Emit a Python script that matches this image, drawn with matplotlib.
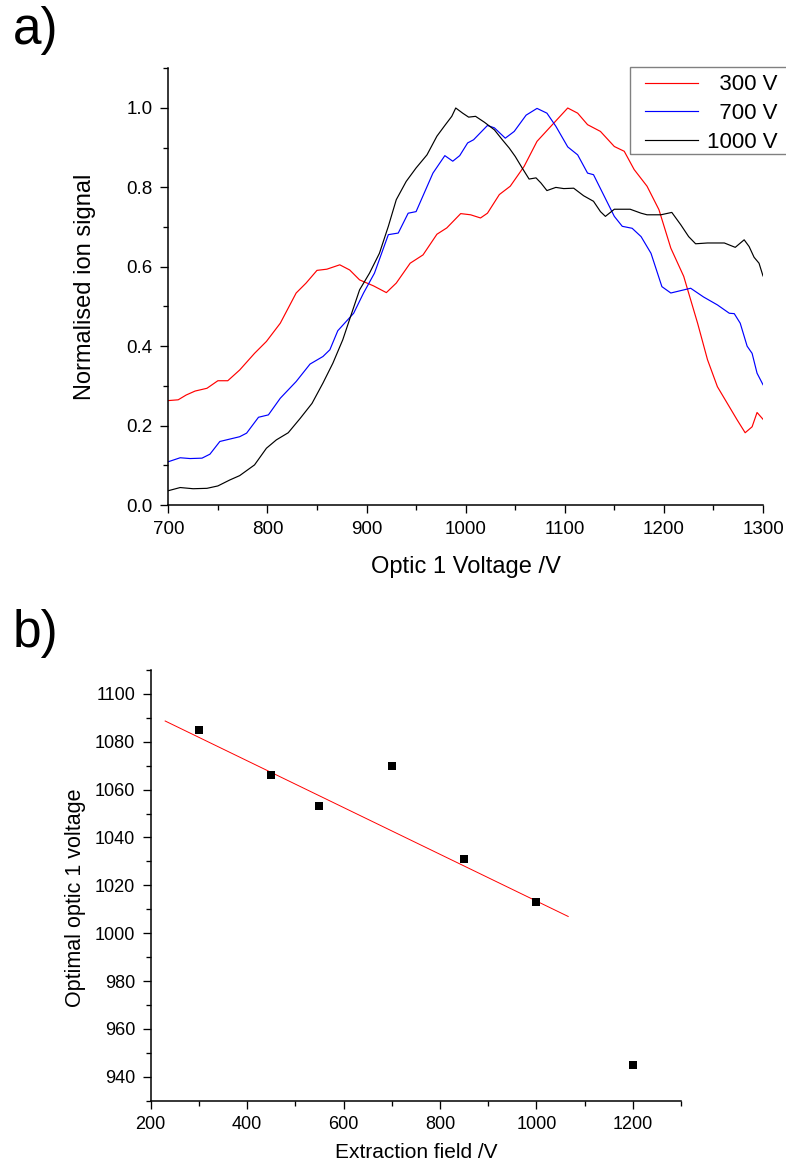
import numpy as np
import matplotlib
matplotlib.use("Agg")
import matplotlib.pyplot as plt
from matplotlib.patches import Rectangle
from matplotlib.ticker import MultipleLocator, FormatStrFormatter

plt.rcParams['font.family'] = ['Liberation Sans', 'DejaVu Sans']

# ---- panel a: normalised ion signal vs optic 1 voltage ----
v300 = [700, 710, 718, 727, 739, 750, 760, 772, 787, 799, 813, 821, 829, 839, 850, 860,
        873, 883, 893, 907, 920, 930, 944, 957, 971, 981, 995, 1005, 1015, 1022, 1034,
        1045, 1059, 1072, 1086, 1103, 1113, 1123, 1136, 1150, 1160, 1170, 1183, 1195,
        1207, 1220, 1234, 1244, 1254, 1264, 1274, 1282, 1289, 1294, 1300]
s300 = [0.263, 0.265, 0.277, 0.287, 0.294, 0.313, 0.313, 0.340, 0.382, 0.412, 0.458,
        0.496, 0.534, 0.559, 0.591, 0.594, 0.605, 0.592, 0.567, 0.552, 0.535, 0.559,
        0.609, 0.630, 0.682, 0.698, 0.734, 0.731, 0.723, 0.735, 0.782, 0.803, 0.853,
        0.916, 0.954, 1.000, 0.987, 0.958, 0.941, 0.903, 0.891, 0.845, 0.803, 0.744,
        0.647, 0.576, 0.458, 0.366, 0.298, 0.256, 0.214, 0.182, 0.197, 0.233, 0.216]

v700 = [700, 712, 722, 734, 742, 752, 762, 772, 779, 791, 801, 813, 829, 843, 856, 863,
        871, 887, 897, 908, 922, 932, 942, 950, 967, 979, 987, 994, 1002, 1008, 1022,
        1029, 1040, 1049, 1061, 1072, 1082, 1091, 1103, 1113, 1123, 1129, 1140, 1150,
        1158, 1168, 1177, 1187, 1198, 1207, 1217, 1227, 1240, 1254, 1266, 1271, 1277,
        1284, 1289, 1294, 1300]
s700 = [0.109, 0.119, 0.117, 0.118, 0.128, 0.160, 0.166, 0.172, 0.181, 0.221, 0.227,
        0.269, 0.311, 0.355, 0.374, 0.391, 0.439, 0.483, 0.534, 0.584, 0.681, 0.685,
        0.735, 0.739, 0.836, 0.880, 0.866, 0.880, 0.912, 0.920, 0.956, 0.950, 0.924,
        0.941, 0.982, 0.999, 0.987, 0.954, 0.902, 0.882, 0.836, 0.832, 0.777, 0.727,
        0.702, 0.697, 0.676, 0.634, 0.550, 0.534, 0.540, 0.546, 0.524, 0.504, 0.483,
        0.482, 0.458, 0.400, 0.382, 0.332, 0.303]

v1000 = [700, 712, 725, 739, 750, 762, 772, 787, 799, 809, 821, 833, 845, 856, 866, 876,
         885, 893, 903, 913, 922, 930, 940, 950, 961, 971, 979, 986, 990, 997, 1003,
         1010, 1019, 1029, 1037, 1044, 1050, 1057, 1064, 1071, 1076, 1082, 1091, 1099,
         1109, 1119, 1129, 1136, 1141, 1150, 1166, 1177, 1183, 1197, 1208, 1217, 1225,
         1232, 1244, 1261, 1272, 1281, 1286, 1291, 1296, 1300]
s1000 = [0.036, 0.044, 0.041, 0.042, 0.048, 0.063, 0.074, 0.101, 0.143, 0.164, 0.182,
         0.218, 0.256, 0.307, 0.357, 0.416, 0.483, 0.542, 0.584, 0.634, 0.702, 0.769,
         0.815, 0.849, 0.882, 0.929, 0.956, 0.979, 1.000, 0.987, 0.977, 0.979, 0.964,
         0.945, 0.920, 0.899, 0.878, 0.849, 0.821, 0.824, 0.811, 0.792, 0.800, 0.797,
         0.798, 0.779, 0.765, 0.739, 0.727, 0.745, 0.745, 0.735, 0.731, 0.731, 0.737,
         0.706, 0.676, 0.658, 0.660, 0.660, 0.649, 0.668, 0.651, 0.624, 0.609, 0.577]

series_labels = ['\u2007300 V', '\u2007700 V', '1000 V']
series_colors = ['#ff0000', '#0000ff', '#000000']

# ---- panel b: optimal optic 1 voltage vs extraction field ----
field = [300, 450, 550, 700, 850, 1000, 1200]
optimal = [1085, 1066, 1053, 1070, 1031, 1013, 945]
fit_points = [300, 450, 550, 850, 1000]   # fields used for the linear fit
fit_span = (230, 1066)

W, H = 786, 1167
fig = plt.figure(figsize=(W / 100, H / 100), dpi=100)


def frac_box(x0, y0, x1, y1):
    return [x0 / W, 1 - y1 / H, (x1 - x0) / W, (y1 - y0) / H]


def style_axes(ax, tick_fs):
    for side in ('top', 'right'):
        ax.spines[side].set_visible(False)
    for side in ('left', 'bottom'):
        ax.spines[side].set_linewidth(1.1)
    ax.tick_params(which='both', direction='out', width=0.95, labelsize=tick_fs,
                   top=False, right=False, pad=5.5)
    ax.tick_params(which='major', length=5.8)
    ax.tick_params(which='minor', length=3.4)


# panel a
ax1 = fig.add_axes(frac_box(168.3, 68.3, 763, 505))
for v, s, lab, col in zip([v300, v700, v1000], [s300, s700, s1000],
                          series_labels, series_colors):
    ax1.plot(v, s, color=col, lw=0.85, label=lab)
ax1.set_xlim(700, 1300)
ax1.set_ylim(0, 1.1)
ax1.xaxis.set_major_locator(MultipleLocator(100))
ax1.xaxis.set_minor_locator(MultipleLocator(50))
ax1.yaxis.set_major_locator(MultipleLocator(0.2))
ax1.yaxis.set_minor_locator(MultipleLocator(0.1))
ax1.yaxis.set_major_formatter(FormatStrFormatter('%.1f'))
style_axes(ax1, 13.5)
ax1.set_xlabel('Optic 1 Voltage /V', fontsize=17)
ax1.set_ylabel('Normalised ion signal', fontsize=17, va='center')
ax1.xaxis.set_label_coords(0.5, -0.1165)
ax1.yaxis.set_label_coords(-0.140, 0.5)

# legend entries without their own frame; the box is drawn as a patch
leg = ax1.legend(loc='upper left', bbox_to_anchor=(645 / W, 1 - 74.5 / H),
                 bbox_transform=fig.transFigure, borderaxespad=0, fontsize=16,
                 frameon=False, handlelength=2.4, handletextpad=0.4,
                 labelspacing=0.34, borderpad=0.0)
fig.patches.append(Rectangle((630 / W, 1 - 154 / H), 170 / W, (154 - 67.3) / H,
                             transform=fig.transFigure, facecolor='none',
                             edgecolor='#808080', linewidth=1.0))

# panel b
ax2 = fig.add_axes(frac_box(150.7, 670, 681, 1100.7))
fx = np.array(field, dtype=float)
fy = np.array(optimal, dtype=float)
sel = np.isin(fx, fit_points)
slope, intercept = np.polyfit(fx[sel], fy[sel], 1)
xs = np.array(fit_span, dtype=float)
ax2.plot(xs, slope * xs + intercept, color='#ff0000', lw=0.7)
ax2.plot(field, optimal, linestyle='none', marker='s', markersize=5.4,
         color='black', markeredgewidth=0)
ax2.set_xlim(200, 1300)
ax2.set_ylim(930, 1110)
ax2.xaxis.set_major_locator(MultipleLocator(200))
ax2.xaxis.set_minor_locator(MultipleLocator(100))
ax2.yaxis.set_major_locator(MultipleLocator(20))
ax2.yaxis.set_minor_locator(MultipleLocator(10))
style_axes(ax2, 13)
ax2.set_xlabel('Extraction field /V', fontsize=15)
ax2.set_ylabel('Optimal optic 1 voltage', fontsize=15.5, va='center')
ax2.xaxis.set_label_coords(0.5, -0.099)
ax2.yaxis.set_label_coords(-0.142, 0.4706)

# panel letters
fig.text(13 / W, 1 - 6 / H, 'a)', fontsize=37, ha='left', va='top')
fig.text(13 / W, 1 - 609 / H, 'b)', fontsize=37, ha='left', va='top')

fig.savefig('out.png', dpi=100)
